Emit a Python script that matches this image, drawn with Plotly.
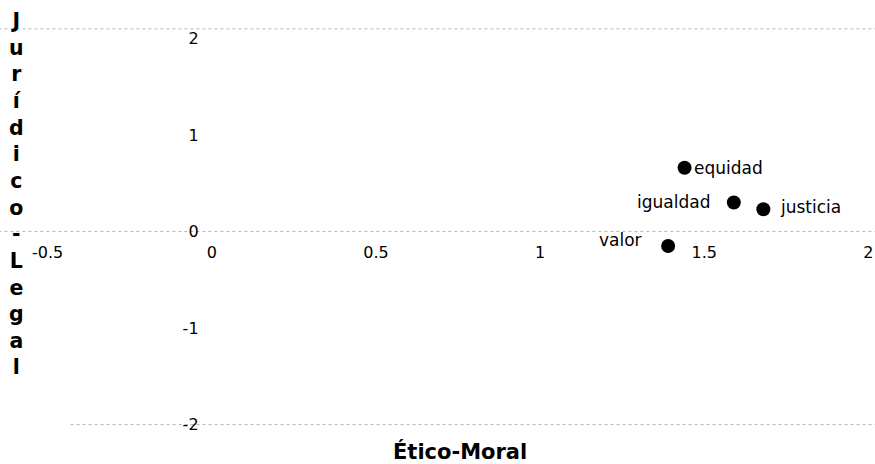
import plotly.graph_objects as go

# ---- data ----
names = ["equidad", "igualdad", "justicia", "valor"]
x_vals = [1.44, 1.59, 1.68, 1.39]
y_vals = [0.66, 0.30, 0.23, -0.15]

x_ticks = [-0.5, 0, 0.5, 1, 1.5, 2]
x_tick_text = ["-0.5", "0", "0.5", "1", "1.5", "2"]
y_ticks = [-2, -1, 0, 1, 2]
y_tick_text = ["-2", "-1", "0", "1", "2"]

x_title = "Ético-Moral"
y_title = "Jurídico-Legal"

# faint dotted reference lines (scan frame)
ref_lines_y = [2.1, 0, -2]
ref_lines_x0 = [-0.65, -0.65, -0.43]

# ---- layout / style ----
X_RANGE = [-0.645, 2.02]
Y_RANGE = [-2.409, 2.399]
label_style = {
    "equidad": dict(xanchor="left", xshift=7, yshift=0),
    "igualdad": dict(xanchor="right", xshift=-22, yshift=1),
    "justicia": dict(xanchor="left", xshift=15, yshift=2),
    "valor": dict(xanchor="right", xshift=-24, yshift=6),
}

xpos = (0 - X_RANGE[0]) / (X_RANGE[1] - X_RANGE[0])
ypos = (0 - Y_RANGE[0]) / (Y_RANGE[1] - Y_RANGE[0])

fig = go.Figure()
fig.add_trace(go.Scatter(
    x=x_vals, y=y_vals, mode="markers",
    marker=dict(color="black", size=14),
    hoverinfo="text", text=names, showlegend=False,
))

for n, xv, yv in zip(names, x_vals, y_vals):
    st = label_style[n]
    fig.add_annotation(x=xv, y=yv, text=n, showarrow=False,
                       xref="x", yref="y", yanchor="middle",
                       font=dict(family="DejaVu Sans", size=17, color="black"),
                       **st)

for yl, x0 in zip(ref_lines_y, ref_lines_x0):
    fig.add_shape(type="line", xref="x", yref="y", x0=x0, x1=X_RANGE[1],
                  y0=yl, y1=yl, line=dict(color="#b8b8b8", width=1, dash="dot"),
                  layer="below")

fig.add_annotation(text=x_title, xref="paper", yref="paper", x=0.526, y=13 / 464,
                   xanchor="center", yanchor="middle", showarrow=False,
                   font=dict(family="DejaVu Sans", size=21, color="black", weight="bold"))

fig.add_annotation(text="<br>".join(list(y_title)), xref="paper", yref="paper",
                   x=16 / 875, y=1 - 194 / 464, xanchor="center", yanchor="middle",
                   showarrow=False, align="center",
                   font=dict(family="DejaVu Sans", size=20.5, color="black", weight="bold"))

fig.update_layout(
    width=875, height=464,
    margin=dict(l=0, r=0, t=0, b=0),
    paper_bgcolor="white", plot_bgcolor="white",
    xaxis=dict(range=X_RANGE, tickvals=x_ticks, ticktext=x_tick_text,
               anchor="free", position=ypos, showgrid=False, zeroline=False,
               showline=False, ticks="outside", ticklen=6,
               tickcolor="rgba(0,0,0,0)", automargin=False,
               ticklabeloverflow="allow",
               tickfont=dict(family="DejaVu Sans", size=16, color="black")),
    yaxis=dict(range=Y_RANGE, tickvals=y_ticks, ticktext=y_tick_text,
               anchor="free", position=xpos, showgrid=False, zeroline=False,
               showline=False, ticks="outside", ticklen=10,
               tickcolor="rgba(0,0,0,0)", automargin=False,
               tickfont=dict(family="DejaVu Sans", size=16, color="black")),
)

fig.write_html("out.html", config={"displayModeBar": False},
               post_script="document.body.style.margin='0';document.body.style.overflow='hidden';")
